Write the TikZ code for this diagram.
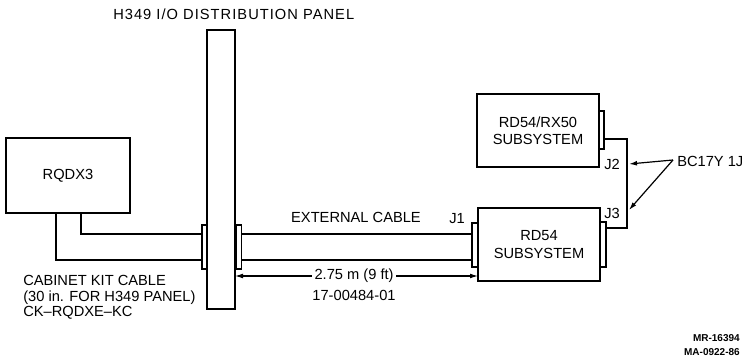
\documentclass[tikz,border=0pt]{standalone}
\usepackage{fontspec}
\setmainfont{Liberation Sans}
\usetikzlibrary{arrows.meta}
\begin{document}
\begin{tikzpicture}[x=0.75pt,y=-0.75pt,
  unitbox/.style={draw,line width=1.4pt,fill=white,inner sep=0pt,outer sep=0pt,
    align=center,font=\fontsize{11}{13}\selectfont},
  conn/.style={draw,line width=1.2pt,fill=white,inner sep=0pt,outer sep=0pt,minimum width=4.2pt},
  cable/.style={line width=1.4pt},
  lbl/.style={inner sep=0pt,font=\fontsize{11}{11.6}\selectfont},
  pointer/.style={line width=0.9pt,-{Latex[length=6pt,width=3.6pt]}},
  dimline/.style={line width=0.8pt,{Latex[length=6pt,width=3.6pt]}-{Latex[length=6pt,width=3.6pt]}}]
  \useasboundingbox (0,0) rectangle (744,359);
  % connectors (behind the panel and boxes)
  \node[conn,minimum height=33pt] (pconnL) at (205,247) {};
  \node[conn,minimum height=33pt] (pconnR) at (238.5,247) {};
  \node[conn,minimum height=33pt] (jone) at (475,245) {};
  \node[conn,minimum height=33.75pt] (jthree) at (603,244.5) {};
  \node[conn,minimum height=28.5pt] (jtwo) at (601,130) {};
  % units
  \node[unitbox,minimum width=93pt,minimum height=56.25pt] (rqdx) at (68,175.5) {RQDX3};
  \node[unitbox,minimum width=21pt,minimum height=209.25pt] (panel) at (221,169.5) {};
  \node[unitbox,minimum width=91.5pt,minimum height=54.75pt] (rdrx) at (538,130.5) {RD54/RX50\\SUBSYSTEM};
  \node[unitbox,minimum width=91.5pt,minimum height=54.75pt] (rdfive) at (539,244.5) {RD54\\SUBSYSTEM};
  % cabinet kit cable
  \coordinate (outerbend) at (56,260);
  \coordinate (innerbend) at (81,234);
  \draw[cable] (rqdx.south -| outerbend) -- (outerbend) -- (pconnL.west |- outerbend);
  \draw[cable] (rqdx.south -| innerbend) -- (innerbend) -- (pconnL.west |- innerbend);
  % external cable
  \draw[cable] (pconnR.east |- innerbend) -- (jone.west |- innerbend);
  \draw[cable] (pconnR.east |- outerbend) -- (jone.west |- outerbend);
  % BC17Y cable J2 to J3
  \coordinate (loopTop) at (627,139);
  \coordinate (loopBot) at (627,228);
  \draw[cable] (jtwo.east |- loopTop) -- (loopTop) -- (loopBot) -- (jthree.east |- loopBot);
  % length of external cable
  \coordinate (dim) at (0,276);
  \draw[dimline] (panel.east |- dim) -- node[pos=0.49,fill=white,inner xsep=2pt,inner ysep=1pt,
    font=\fontsize{11}{13}\selectfont] (dimtxt) {2.75 m (9 ft)} (rdfive.west |- dim);
  \node[lbl] (partno) at (354,295) {17-00484-01};
  % labels
  \node[lbl,anchor=west] (title) at (113,14)
    {\addfontfeatures{LetterSpace=7}H349 I/O DISTRIBUTION PANEL};
  \node[lbl,anchor=west,align=left] (kit) at (23,297.5)
    {CABINET KIT CABLE\\(30 in. FOR H349 PANEL)\\CK--RQDXE--KC};
  \node[lbl] (extcable) at (356,217) {EXTERNAL CABLE};
  \node[lbl] (jonelbl) at (457,219) {J1};
  \node[lbl] (jtwolbl) at (612,164) {J2};
  \node[lbl] (jthreelbl) at (612,213) {J3};
  \node[lbl,anchor=west] (bc) at (677,161) {BC17Y 1J};
  \coordinate (tipJtwo) at (629,164);
  \coordinate (tipJthree) at (629,210);
  \draw[pointer] (bc.west) ++(-4,-1) -- (tipJtwo);
  \draw[pointer] (bc.west) ++(-4,-1) -- (tipJthree);
  % drawing numbers
  \node[inner sep=0pt,anchor=east,font=\bfseries\fontsize{7.5}{9}\selectfont] (mr) at (740,338) {MR-16394};
  \node[inner sep=0pt,anchor=east,font=\bfseries\fontsize{7.5}{9}\selectfont] (ma) at (740,352) {MA-0922-86};
\end{tikzpicture}
\end{document}
